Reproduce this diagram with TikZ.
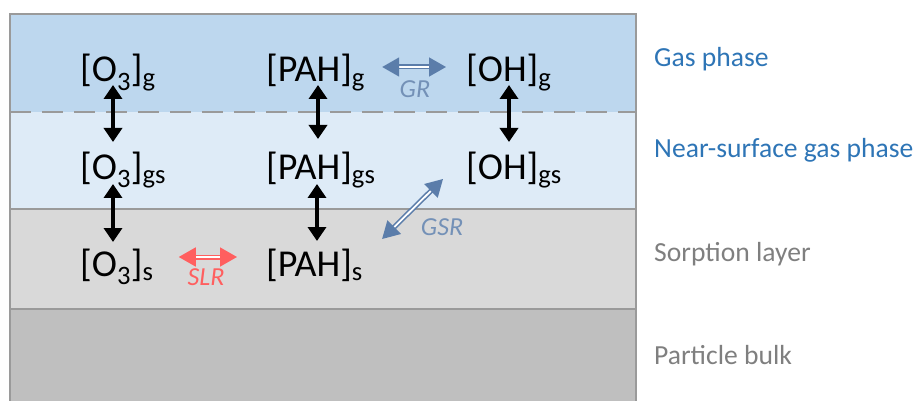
\documentclass[tikz,border=0pt]{standalone}
\usepackage{fontspec}
\setmainfont{Carlito}
\usetikzlibrary{arrows.meta}
\definecolor{gasc}{HTML}{BDD7EE}
\definecolor{nearc}{HTML}{DEEBF7}
\definecolor{sorpc}{HTML}{D9D9D9}
\definecolor{bulkc}{HTML}{BFBFBF}
\definecolor{framec}{HTML}{9A9A9A}
\definecolor{bluec}{HTML}{2E75B6}
\definecolor{grayt}{HTML}{7F7F7F}
\definecolor{arrb}{HTML}{5B7DAA}
\definecolor{arrr}{HTML}{FF5F5F}
\begin{document}
\begin{tikzpicture}[x=1pt,y=-1pt,
  chem/.style={inner sep=0pt, anchor=base west, font=\fontsize{38}{40}\selectfont},
  side/.style={inner sep=0pt, anchor=base west, font=\fontsize{27.6}{30}\selectfont},
  rlab/.style={inner sep=0pt, anchor=base, font=\fontsize{26}{28}\selectfont\itshape},
  blk/.style={line width=4.5pt, black, {Triangle[length=14pt,width=18pt]}-{Triangle[length=14pt,width=18pt]}},
  dbl/.style={line width=1.6pt, double=white, double distance=1.8pt, {Triangle[length=17pt,width=19pt]}-{Triangle[length=17pt,width=19pt]}},
  framel/.style={draw=framec, line width=2.5pt}]
\useasboundingbox (0,0) rectangle (919,401);
% bands
\fill[gasc] (10,14) rectangle (636,112);
\fill[nearc] (10,112) rectangle (636,209);
\fill[sorpc] (10,209) rectangle (636,309);
\fill[bulkc] (10,309) rectangle (636,401);
\draw[framel] (10,209) -- (636,209);
\draw[framel] (10,309) -- (636,309);
\draw[framel, dash pattern=on 21pt off 11pt] (10,112) -- (636,112);
\draw[framel] (10,402) -- (10,14) -- (636,14) -- (636,402);
% species
\node[chem] (o3g)  at (80,82)  {[O\textsubscript{3}]\textsubscript{g}};
\node[chem] (pahg) at (266,82) {[PAH]\textsubscript{g}};
\node[chem] (ohg)  at (466,82) {[OH]\textsubscript{g}};
\node[chem] (o3gs)  at (80,179)  {[O\textsubscript{3}]\textsubscript{gs}};
\node[chem] (pahgs) at (266,179) {[PAH]\textsubscript{gs}};
\node[chem] (ohgs)  at (466,179) {[OH]\textsubscript{gs}};
\node[chem] (o3s)  at (80,276)  {[O\textsubscript{3}]\textsubscript{s}};
\node[chem] (pahs) at (266,276) {[PAH]\textsubscript{s}};
% side labels
\node[side, text=bluec] (lgas) at (654,67) {Gas phase};
\node[side, text=bluec] (lnear) at (654,158) {Near-surface gas phase};
\node[side, text=grayt] (lsorp) at (654,261) {Sorption layer};
\node[side, text=grayt] (lbulk) at (654,364) {Particle bulk};
% vertical transport arrows
\draw[blk] ([shift={(33,3)}]o3g.base west) -- ([shift={(33,-37)}]o3gs.base west);
\draw[blk] ([shift={(33,5)}]o3gs.base west) -- ([shift={(33,-34)}]o3s.base west);
\draw[blk] ([shift={(52,3)}]pahg.base west) -- ([shift={(52,-40)}]pahgs.base west);
\draw[blk] ([shift={(51,5)}]pahgs.base west) -- ([shift={(51,-35)}]pahs.base west);
\draw[blk] ([shift={(43,3)}]ohg.base west) -- ([shift={(43,-37)}]ohgs.base west);
% reaction arrows
\draw[dbl, arrb] ([shift={(17,-15)}]pahg.base east) -- ([shift={(-20,-15)}]ohg.base west);
\node[rlab, text=arrb!85!white] (gr) at (415,98) {GR};
\draw[dbl, arrb] ([shift={(19,-37)}]pahs.base east) -- ([shift={(-23,0)}]ohgs.base west);
\node[rlab, text=arrb!85!white] (gsr) at (442,235) {GSR};
\draw[dbl, arrr] ([shift={(25,-19)}]o3s.base east) -- ([shift={(-29,-19)}]pahs.base west);
\node[rlab, text=arrr] (slr) at (206,285) {SLR};
\end{tikzpicture}
\end{document}
